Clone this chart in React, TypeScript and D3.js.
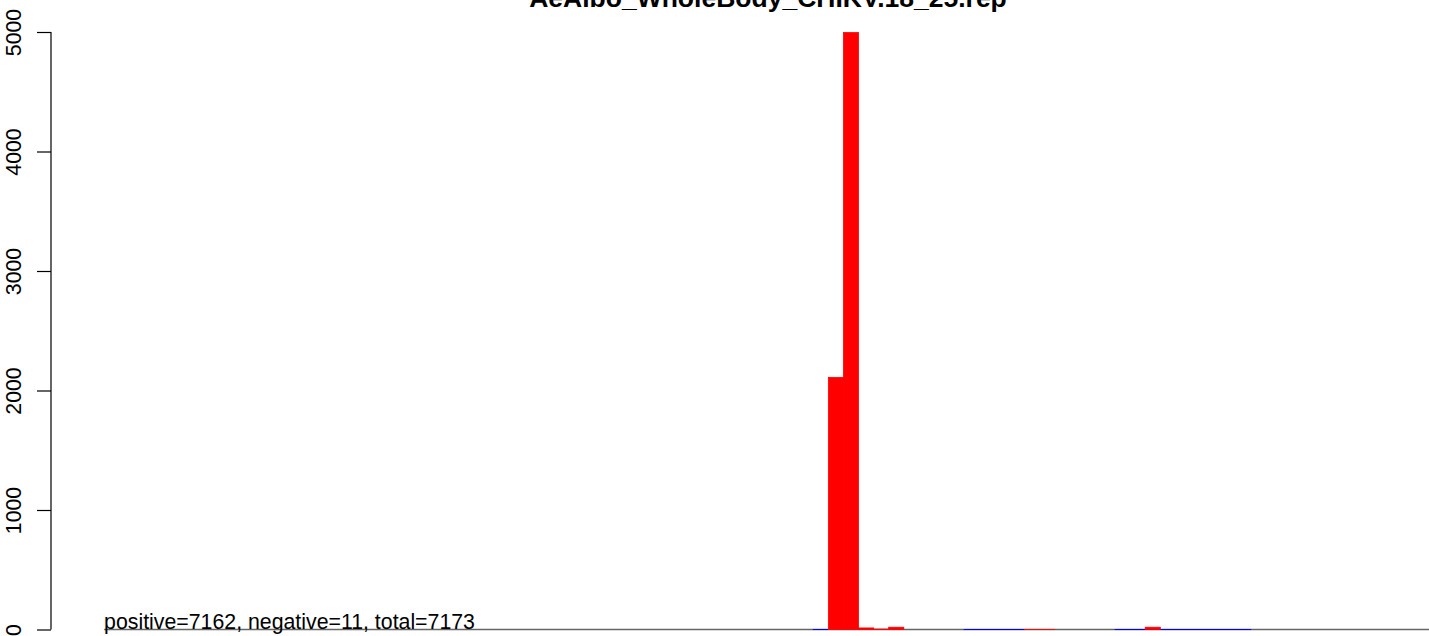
import * as React from 'react';
import {useEffect, useRef} from 'react';
import * as d3 from 'd3';

const width = 1429;
const height = 636;

const title = 'AeAlbo_WholeBody_CHIKV.18_25.rep';
const summary = 'positive=7162, negative=11, total=7173';

// one entry per bar (88 bars)
const positive = [
  0, 0, 0, 0, 0, 0, 0, 0, 0, 0,
  0, 0, 0, 0, 0, 0, 0, 0, 0, 0,
  0, 0, 0, 0, 0, 0, 0, 0, 0, 0,
  0, 0, 0, 0, 0, 0, 0, 0, 0, 0,
  0, 0, 0, 0, 0, 0, 0, 0, 2110, 4995,
  13, 4, 19, 0, 0, 0, 0, 0, 0, 0,
  0, 1, 1, 0, 0, 0, 0, 0, 0, 19,
  0, 0, 0, 0, 0, 0, 0, 0, 0, 0,
  0, 0, 0, 0, 0, 0, 0, 0,
];
const negative = [
  0, 0, 0, 0, 0, 0, 0, 0, 0, 0,
  0, 0, 0, 0, 0, 0, 0, 0, 0, 0,
  0, 0, 0, 0, 0, 0, 0, 0, 0, 0,
  0, 0, 0, 0, 0, 0, 0, 0, 0, 0,
  0, 0, 0, 0, 0, 0, 0, -1, 0, 0,
  0, 0, 0, 0, 0, 0, 0, -1, -1, -1,
  -1, 0, 0, 0, 0, 0, 0, -1, -1, -1,
  -1, -1, -1, -1, -1, -1, 0, 0, 0, 0,
  0, 0, 0, 0, 0, 0, 0, 0,
];
const yTicks = [0, 1000, 2000, 3000, 4000, 5000];

const n = positive.length;

export default function App() {
  const ref = useRef<SVGSVGElement>(null);

  useEffect(() => {
    const svg = d3.select(ref.current);
    svg.selectAll('*').remove();

    // R style plot region with 4% extension on x
    const x = d3.scaleLinear().domain([-0.04 * n, n * 1.04]).range([51, 1485]);
    const y = d3.scaleLinear().domain([0, 5000]).range([629.5, 32]);

    svg.append('text')
      .attr('x', 768)
      .attr('y', 7)
      .attr('text-anchor', 'middle')
      .attr('font-weight', 'bold')
      .attr('font-size', 26.5)
      .text(title);

    // baseline
    svg.append('line')
      .attr('x1', x(0)).attr('x2', x(n))
      .attr('y1', y(0)).attr('y2', y(0))
      .attr('stroke', '#666')
      .attr('stroke-width', 1.3);

    const bars = (vals: number[], color: string) => {
      svg.append('g')
        .selectAll('rect')
        .data(vals.map((v, i) => ({v, i})).filter(d => d.v !== 0))
        .join('rect')
        .attr('x', d => x(d.i))
        .attr('width', d => x(d.i + 1) - x(d.i))
        .attr('y', d => Math.min(y(d.v), y(0)))
        .attr('height', d => Math.abs(y(d.v) - y(0)))
        .attr('fill', color)
        .attr('stroke', color)
        .attr('stroke-width', 0.8);
    };
    bars(negative, '#0000ff');
    bars(positive, '#ff0000');

    const axis = svg.append('g').attr('transform', 'translate(51,0)')
      .call(d3.axisLeft(y).tickValues(yTicks).tickSize(14).tickFormat(d3.format('d')));
    axis.select('.domain').attr('d', `M0,${y(0)}V${y(5000)}`).attr('stroke-width', 1.2);
    axis.selectAll('.tick line').attr('stroke-width', 1.2);
    axis.selectAll('.tick text')
      .attr('font-size', 21.3)
      .attr('font-family', '"Liberation Sans", Arial, sans-serif')
      .attr('fill', '#000')
      .attr('text-anchor', 'middle')
      .attr('dy', 0)
      .attr('x', null)
      .attr('transform', 'translate(-30,0) rotate(-90)');

    svg.append('text')
      .attr('x', x(0))
      .attr('y', 629)
      .attr('font-size', 21.3)
      .text(summary);
  }, []);

  return (
    <svg ref={ref} width={width} height={height}
      style={{position: 'absolute', left: 0, top: 0, background: '#fff'}}
      fontFamily='"Liberation Sans", Arial, sans-serif'/>
  );
}
